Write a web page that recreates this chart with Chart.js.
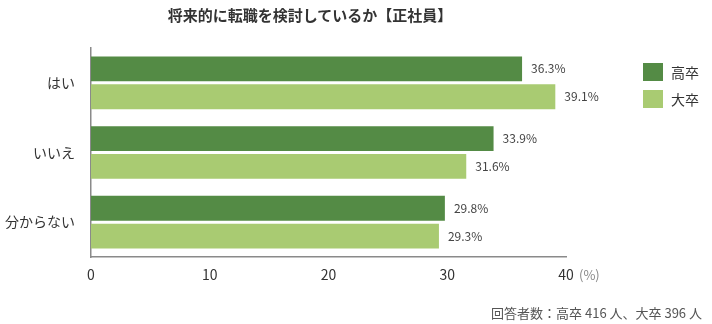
<!DOCTYPE html>
<html lang="ja">
<head>
<meta charset="utf-8">
<script src="https://cdn.jsdelivr.net/npm/chart.js@4.4.1/dist/chart.umd.min.js"></script>
<style>
  html, body { margin: 0; padding: 0; background: #fff; }
  body { width: 712px; height: 324px; position: relative; overflow: hidden;
         font-family: "Noto Sans CJK JP", "Noto Sans", sans-serif; color: #333; }
  #wrap { position: absolute; left: 0; top: 0; width: 712px; height: 324px; }
  .title { position: absolute; left: 0; width: 620px; top: 4px; text-align: center;
           font-size: 15px; font-weight: bold; color: #333; }
  .legend { position: absolute; left: 643px; top: 58px; font-size: 14px; color: #333; }
  .legend div { display: flex; align-items: center; height: 27px; }
  .legend span.sw { display: inline-block; width: 20px; height: 18px; margin-right: 8px; }
  .note { position: absolute; right: 10px; top: 303px; font-size: 13px; color: #555; }
  .unit { position: absolute; left: 579px; top: 265px; font-size: 13px; color: #888; }
</style>
</head>
<body>
<div id="wrap"><canvas id="chart" width="712" height="324"></canvas></div>
<div class="title">将来的に転職を検討しているか【正社員】</div>
<div class="legend" id="legend"></div>
<div class="unit">(%)</div>
<div class="note">回答者数：高卒 416 人、大卒 396 人</div>
<script>
// answers and share of respondents (%) per education group
const categories = ['はい', 'いいえ', '分からない']
const seriesNames = ['高卒', '大卒']
const highSchool = [36.3, 33.9, 29.8]
const university = [39.1, 31.6, 29.3]
const xTicks = [0, 10, 20, 30, 40]

const colors = ['#548b45', '#a9cb72']

// simple HTML legend on the right
const legendEl = document.getElementById('legend')
seriesNames.forEach((name, i) => {
  const row = document.createElement('div')
  row.innerHTML = `<span class="sw" style="background:${colors[i]}"></span>${name}`
  legendEl.appendChild(row)
})

// value labels ("36.3%") right after each bar end
const valueLabels = {
  id: 'valueLabels',
  afterDatasetsDraw(chart) {
    const ctx = chart.ctx
    ctx.save()
    ctx.font = '12px "Noto Sans CJK JP", "Noto Sans", sans-serif'
    ctx.fillStyle = '#444'
    ctx.textBaseline = 'middle'
    ctx.textAlign = 'left'
    chart.data.datasets.forEach((ds, di) => {
      chart.getDatasetMeta(di).data.forEach((bar, i) => {
        ctx.fillText(ds.data[i].toFixed(1) + '%', bar.x + 9, bar.y)
      })
    })
    ctx.restore()
  }
}

new Chart(document.getElementById('chart'), {
  type: 'bar',
  data: {
    labels: categories,
    datasets: [
      { label: seriesNames[0], data: highSchool, backgroundColor: colors[0] },
      { label: seriesNames[1], data: university, backgroundColor: colors[1] },
    ],
  },
  options: {
    indexAxis: 'y',
    responsive: false,
    animation: false,
    layout: { padding: { left: 0, right: 146, top: 48, bottom: 0 } },
    datasets: { bar: { categoryPercentage: 0.8, barPercentage: 0.89 } },
    plugins: { legend: { display: false }, tooltip: { enabled: false } },
    scales: {
      x: {
        min: 0, max: 40,
        afterBuildTicks: s => { s.ticks = xTicks.map(v => ({ value: v })) },
        afterFit: s => { s.height = 67 },
        grid: { display: false, drawTicks: false },
        border: { display: true, color: '#8a8a8a', width: 1.5 },
        ticks: { padding: 9, color: '#333', font: { size: 14, family: '"Noto Sans CJK JP", "Noto Sans", sans-serif' } },
      },
      y: {
        afterFit: s => { s.width = 91 },
        grid: { display: false, drawTicks: false },
        border: { display: true, color: '#8a8a8a', width: 1.5 },
        ticks: { padding: 16, color: '#333', font: { size: 14, family: '"Noto Sans CJK JP", "Noto Sans", sans-serif' } },
      },
    },
  },
  plugins: [valueLabels],
})
</script>
</body>
</html>
